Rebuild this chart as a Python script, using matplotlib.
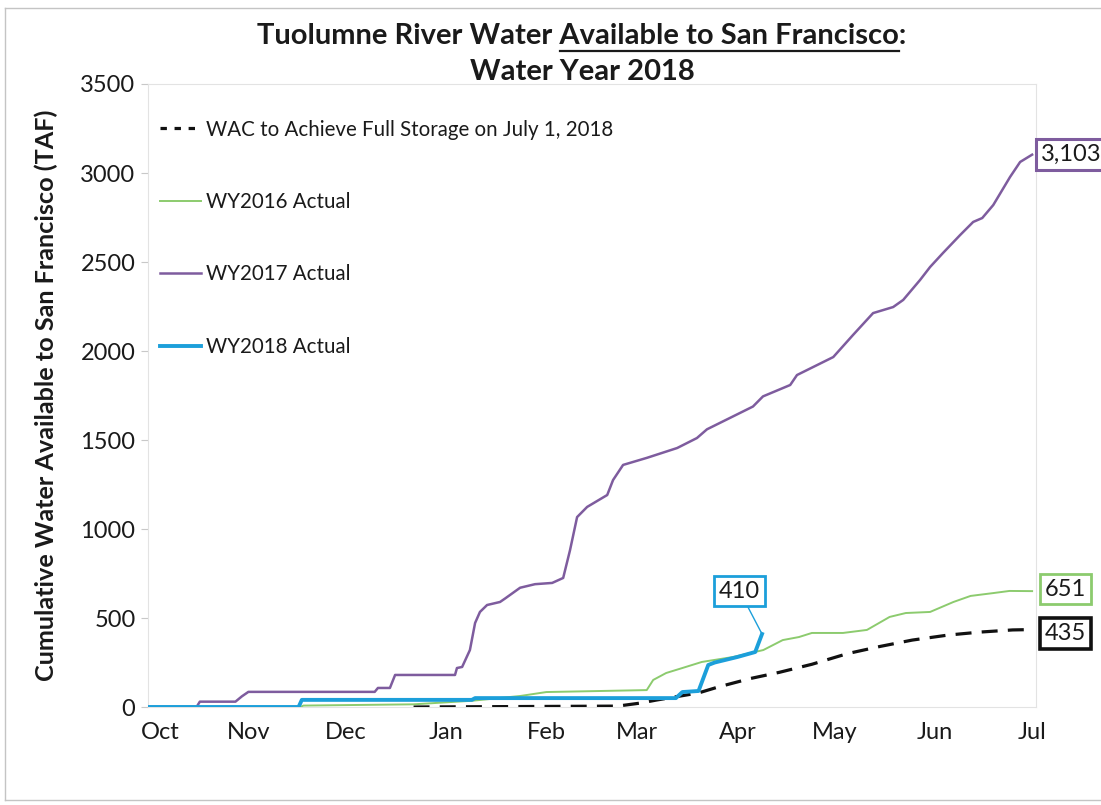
import matplotlib
matplotlib.use("Agg")
import matplotlib.pyplot as plt
from matplotlib.lines import Line2D
import matplotlib.transforms as mtransforms

plt.rcParams['font.family'] = ['Lato', 'DejaVu Sans']

# ---------------- data (x = days since Oct 1, 2017) ----------------
month_days = [0, 31, 61, 92, 123, 151, 182, 212, 243, 273]
month_labels = ['Oct', 'Nov', 'Dec', 'Jan', 'Feb', 'Mar', 'Apr', 'May', 'Jun', 'Jul']

wy2017_days = [0, 15, 16, 27, 29, 31, 70, 71, 74.7, 76.3, 94.8, 95.4, 97, 99.4, 101,
               102.5, 104.7, 108.7, 110.3, 114.9, 119.5, 124.8, 128.2, 130.3, 132.5,
               135.6, 141.8, 143.6, 146.7, 154.1, 163.4, 169.5, 172.6, 179.7, 186.8,
               189.9, 198.3, 200.4, 211.6, 217.7, 223.9, 230.1, 233.2, 238.4, 241.5,
               245.5, 250.8, 254.8, 257.6, 261, 266.2, 269.3, 273]
wy2017_vals = [0, 0, 30, 30, 60, 85, 85, 107, 107, 180, 180, 219, 225, 320, 472,
               534, 573, 590, 610, 670, 690, 697, 725, 880, 1067,
               1124, 1191, 1275, 1360, 1400, 1455, 1511, 1560, 1624, 1688,
               1745, 1809, 1865, 1966, 2090, 2213, 2247, 2287, 2399, 2472,
               2551, 2652, 2725, 2747, 2820, 2978, 3062, 3103]

wy2016_days = [0, 47, 48, 82, 100, 115, 123, 154, 156, 160, 165, 171, 180.7, 190,
               196, 201, 205, 214.6, 222, 229, 234, 241.5, 248.7, 254, 261, 266, 273]
wy2016_vals = [0, 0, 8, 15, 35, 62, 84, 95, 152, 191, 219, 253, 281, 320,
               376, 393, 416, 416, 433, 506, 528, 534, 590, 624, 640, 652, 651]

wy2018_days = [0, 46.5, 47.5, 100, 101, 163, 165, 170, 173, 175, 182, 187.5, 189.6]
wy2018_vals = [0, 0, 40, 40, 50, 50, 84, 90, 236, 250, 281, 309, 410]

wac_days = [82, 145, 152, 157, 170, 176, 186, 195, 205, 216, 226, 236, 247, 257, 267, 273]
wac_vals = [0, 5, 22, 39, 79, 112, 160, 195, 240, 300, 340, 376, 404, 421, 433, 435]

series_names = ['WAC to Achieve Full Storage on July 1, 2018', 'WY2016 Actual',
                'WY2017 Actual', 'WY2018 Actual']
end_labels = ['435', '651', '3,103', '410']

# ---------------- style ----------------
C_PURPLE = '#7E5C9E'
C_GREEN = '#8CCB6E'
C_BLUE = '#1C9FDA'
C_BLACK = '#111111'
TXT = '#1a1a1a'

W, H = 1101, 805
fig = plt.figure(figsize=(W / 100, H / 100), dpi=100)
fig.patch.set_facecolor('white')
ax = fig.add_axes([148 / W, 1 - 707 / H, (1036 - 148) / W, (707 - 84) / H])

ax.plot(wac_days, wac_vals, color=C_BLACK, lw=2.3, ls=(0, (5, 3.2)), zorder=3)
ax.plot(wy2016_days, wy2016_vals, color=C_GREEN, lw=1.4, zorder=3)
ax.plot(wy2017_days, wy2017_vals, color=C_PURPLE, lw=1.8, zorder=3)
ax.plot(wy2018_days, wy2018_vals, color=C_BLUE, lw=2.8, zorder=4)

ax.set_xlim(0, 274.2)
ax.set_ylim(0, 3500)
ax.set_xticks(month_days)
ax.set_xticklabels(month_labels)
ax.set_yticks(range(0, 3501, 500))
ax.tick_params(axis='x', length=0, pad=11, labelsize=17, labelcolor=TXT)
ax.tick_params(axis='y', length=5, width=0.8, color='#c8c8c8', pad=4, labelsize=17, labelcolor=TXT)
# first month label sits slightly right as in the reference
xl = ax.get_xticklabels()[0]
xl.set_transform(xl.get_transform() + mtransforms.ScaledTranslation(12 / 100, 0, fig.dpi_scale_trans))
for s in ax.spines.values():
    s.set_color('#e3e3e3')
    s.set_linewidth(0.8)

ax.set_ylabel('Cumulative Water Available to San Francisco (TAF)', fontsize=18.2,
              fontweight='bold', color=TXT, labelpad=16)

# legend
handles = [Line2D([], [], color=C_BLACK, lw=2.3, ls=(0, (2.0, 2.4))),
           Line2D([], [], color=C_GREEN, lw=1.4),
           Line2D([], [], color=C_PURPLE, lw=1.8),
           Line2D([], [], color=C_BLUE, lw=2.8)]
leg = ax.legend(handles, series_names, loc='upper left', bbox_to_anchor=(0.0135, 0.943),
                frameon=False, fontsize=14.8, labelspacing=2.55, handlelength=2.0,
                handletextpad=0.25, borderpad=0, borderaxespad=0)
for t in leg.get_texts():
    t.set_color(TXT)

# end labels
def box_label(x, y, text, ec, lw, dx, dy, leader=False):
    kw = dict(xy=(x, y), xytext=(dx, dy), textcoords='offset pixels', fontsize=17,
              color=TXT, ha='left', va='center', annotation_clip=False, zorder=6,
              bbox=dict(boxstyle='square,pad=0.2', fc='white', ec=ec, lw=lw))
    if leader:
        kw['arrowprops'] = dict(arrowstyle='-', color=ec, lw=1.0, shrinkA=0, shrinkB=0)
    ax.annotate(text, **kw)

box_label(wac_days[-1], wac_vals[-1], end_labels[0], C_BLACK, 2.6, 13, -4)
box_label(wy2016_days[-1], wy2016_vals[-1], end_labels[1], C_GREEN, 2.0, 13, 2)
box_label(wy2017_days[-1], wy2017_vals[-1], end_labels[2], C_PURPLE, 2.2, 9, 0)
box_label(wy2018_days[-1], wy2018_vals[-1], end_labels[3], C_BLUE, 2.0, -43, 43, leader=True)

# title with underline
title_y1 = 36
title_y2 = 72
cx = 582
fs_title = 21
full = 'Tuolumne River Water Available to San Francisco:'
t1 = fig.text(cx / W, 1 - title_y1 / H, full, ha='center', va='center',
              fontsize=fs_title, fontweight='bold', color=TXT)
fig.text(cx / W, 1 - title_y2 / H, 'Water Year 2018', ha='center', va='center',
         fontsize=fs_title, fontweight='bold', color=TXT)
fig.canvas.draw()
r = fig.canvas.get_renderer()

def wpx(s):
    tt = fig.text(0, 0, s, fontsize=fs_title, fontweight='bold')
    w = tt.get_window_extent(r).width
    tt.remove()
    return w

bb = t1.get_window_extent(r)
left = bb.x0
u0 = left + wpx('Tuolumne River Water A') - wpx('A')
u1 = left + wpx('Tuolumne River Water Available to San Francisco')
uy = H - 51
fig.add_artist(Line2D([u0 / W, u1 / W], [uy / H, uy / H], color=TXT, lw=1.6,
                      transform=fig.transFigure))

# outer chart border
for xs, ys in [([5, 5], [8, 800]), ([5, 1101], [8, 8]), ([5, 1101], [800, 800])]:
    fig.add_artist(Line2D([x / W for x in xs], [1 - y / H for y in ys], color='#c4c4c4',
                          lw=1.0, transform=fig.transFigure))

fig.savefig('out.png', dpi=100, facecolor='white')
